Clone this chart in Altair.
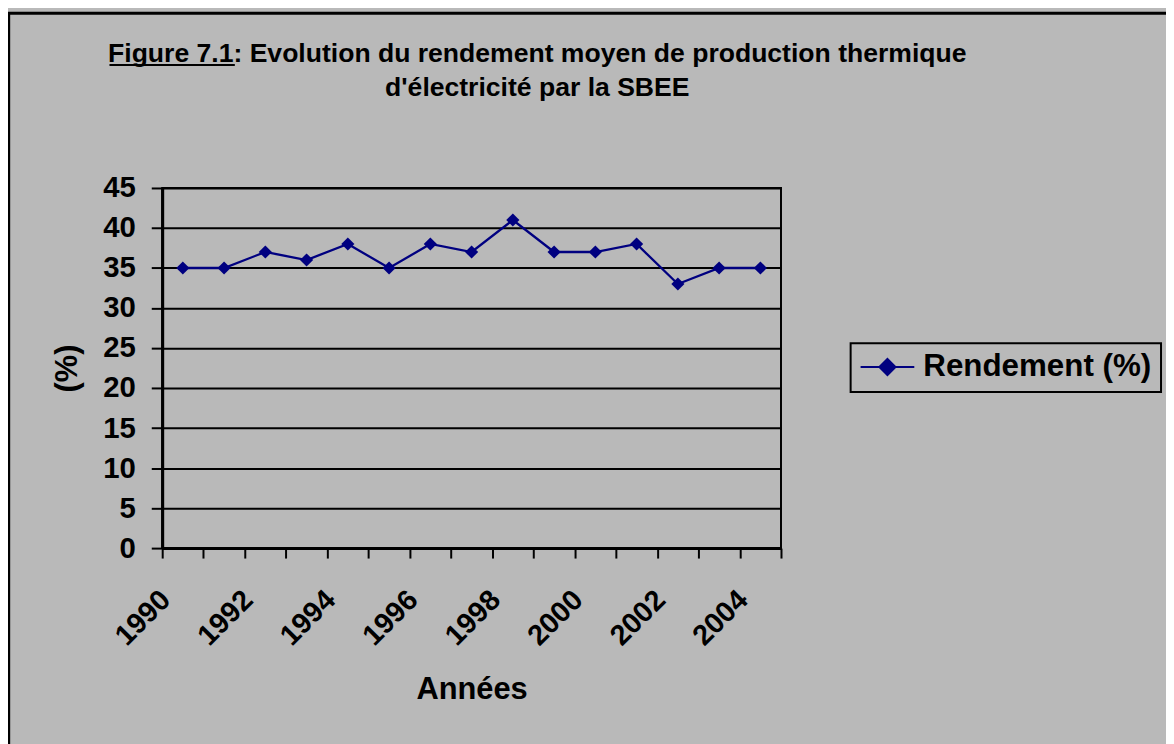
import altair as alt
import pandas as pd

# ---- data ----
years = [1990, 1991, 1992, 1993, 1994, 1995, 1996, 1997, 1998, 1999,
         2000, 2001, 2002, 2003, 2004]
rendement = [35, 35, 37, 36, 38, 35, 38, 37, 41, 37, 37, 38, 33, 35, 35]
series_name = "Rendement (%)"
y_ticks = [0, 5, 10, 15, 20, 25, 30, 35, 40, 45]
title_line1 = "Figure 7.1: Evolution du rendement moyen de production thermique"
title_line2 = "d'électricité par la SBEE"
x_title = "Années"
y_title = "(%)"

# category boundaries (ticks sit between years, as in the original)
x_lo = years[0] - 0.5
x_hi = years[-1] + 0.5
x_bounds = [x_lo + i for i in range(len(years) + 1)]

df = pd.DataFrame({"annee": years, "rendement": rendement,
                   "serie": [series_name] * len(years)})
one = pd.DataFrame({"k": [0]})

FONT = "Liberation Sans"
NAVY = "#000080"
BG = "#B9B9B9"

label_expr = (f"((datum.value - {x_lo}) % 2 == 0 && datum.value < {x_hi}) "
              f"? format(datum.value + 0.5, 'd') : ''")

x_enc = alt.X(
    "annee:Q",
    scale=alt.Scale(domain=[x_lo, x_hi], nice=False, zero=False),
    axis=alt.Axis(
        values=x_bounds, labelExpr=label_expr, labelAngle=-45,
        labelAlign="right", labelBaseline="middle", labelOffset=3,
        labelPadding=37, labelFlush=False, labelOverlap=False,
        tickSize=10, tickWidth=2, tickColor="black",
        domainColor="black", domainWidth=3, grid=False,
        labelFont=FONT, labelFontSize=29, labelFontWeight="bold",
        labelColor="black",
        title=x_title, titleFont=FONT, titleFontSize=31,
        titleFontWeight="bold", titleColor="black",
        titleY=151, titleBaseline="alphabetic",
    ),
)

y_enc = alt.Y(
    "rendement:Q",
    scale=alt.Scale(domain=[0, 45], nice=False, zero=True),
    axis=alt.Axis(
        values=y_ticks, grid=True, gridColor="black", gridWidth=2,
        gridOpacity=1, tickSize=11, tickWidth=2, tickColor="black",
        domainColor="black", domainWidth=3, labelPadding=16,
        labelFont=FONT, labelFontSize=29.5, labelFontWeight="bold",
        labelColor="black",
        title=y_title, titleFont=FONT, titleFontSize=31,
        titleFontWeight="bold", titleColor="black",
        titleX=-95, titleY=181, titleAngle=-90, titleAlign="center",
        titleBaseline="middle",
    ),
)

border = alt.Chart(one).mark_rect(
    filled=False, stroke="black", strokeWidth=3
).encode(
    x=alt.value(-154.3), x2=alt.value(1020),
    y=alt.value(-175.7), y2=alt.value(570),
)

line = alt.Chart(df).mark_line(color=NAVY, strokeWidth=2.3).encode(x=x_enc, y=y_enc)

points = alt.Chart(df).mark_point(
    shape="diamond", filled=True, size=175, opacity=1
).encode(
    x=x_enc, y=y_enc,
    color=alt.Color(
        "serie:N",
        scale=alt.Scale(domain=[series_name], range=[NAVY]),
        legend=alt.Legend(
            title=None, orient="none", legendX=692, legendY=156,
            symbolType="M-1,0H1M0,-0.3L0.3,0L0,0.3L-0.3,0Z",
            symbolSize=2916, symbolStrokeWidth=2,
            symbolStrokeColor=NAVY, symbolFillColor=NAVY,
            labelFont=FONT, labelFontSize=31.5, labelFontWeight="bold",
            labelColor="black", labelOffset=8, padding=9,
            labelLimit=500, clipHeight=30,
            strokeColor="black",
        ),
    ),
)

t1 = alt.Chart(one).mark_text(
    font=FONT, fontSize=26.7, fontWeight="bold", align="center",
    baseline="alphabetic", color="black"
).encode(x=alt.value(377), y=alt.value(-127), text=alt.value(title_line1))

t2 = alt.Chart(one).mark_text(
    font=FONT, fontSize=26.7, fontWeight="bold", align="center",
    baseline="alphabetic", color="black"
).encode(x=alt.value(377), y=alt.value(-92), text=alt.value(title_line2))

underline = alt.Chart(one).mark_rule(color="black", strokeWidth=2).encode(
    x=alt.value(-53), x2=alt.value(73), y=alt.value(-123.5)
)

chart = alt.layer(border, line, points, t1, t2, underline).properties(
    width=622, height=362,
    autosize=alt.AutoSizeParams(type="none"),
    padding={"left": 155, "top": 179, "right": 387, "bottom": 195},
    background=BG,
).configure_view(
    stroke="black", strokeWidth=2
).configure_legend(
    strokeWidth=2
)

chart.save("out.html", embed_options={"renderer": "svg", "actions": False})
